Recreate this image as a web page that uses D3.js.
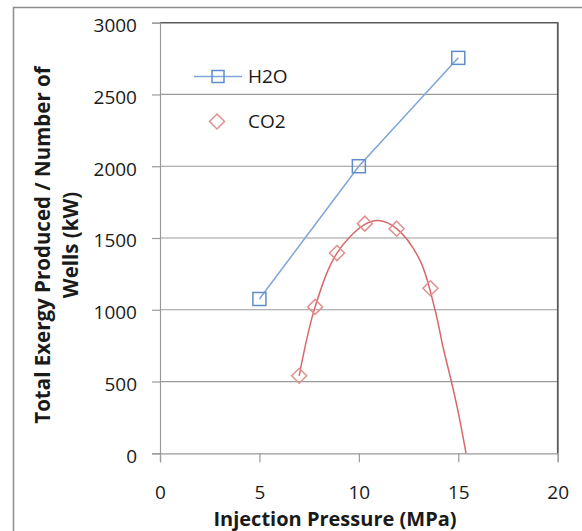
<!DOCTYPE html>
<html>
<head>
<meta charset="utf-8">
<script src="https://cdn.jsdelivr.net/npm/d3@7"></script>
<style>
  html, body { margin: 0; padding: 0; background: #fff; }
  svg { display: block; }
  text { font-family: "Open Sans", "DejaVu Sans", sans-serif; fill: #1a1a1a; }
</style>
</head>
<body>
<svg id="chart" width="582" height="531"></svg>
<script>
// ---- data ----
const xTicks = [0, 5, 10, 15, 20];
const yTicks = [0, 500, 1000, 1500, 2000, 2500, 3000];

const h2oPressure = [5, 10, 15];
const h2oExergy = [1075, 2000, 2755];

const co2Pressure = [7.0, 7.8, 8.9, 10.3, 11.9, 13.6];
const co2Exergy = [540, 1020, 1395, 1600, 1565, 1150];

// trend curve for CO2
const co2TrendPressure = [7.0, 7.8, 8.9, 10.3, 11.0, 11.9, 13.07, 13.83, 14.25, 14.67, 15.0, 15.39];
const co2TrendExergy = [540, 1020, 1395, 1595, 1622, 1565, 1346, 1000, 730, 490, 285, 0];

const seriesNames = ["H2O", "CO2"];
const xTitle = "Injection Pressure (MPa)";
const yTitleLines = ["Total Exergy Produced / Number of", "Wells (kW)"];

// ---- layout ----
const svg = d3.select("#chart");
const plot = { left: 160, right: 557.7, top: 22.7, bottom: 453.3 };

const x = d3.scaleLinear().domain([0, 20]).range([plot.left, plot.right]);
const y = d3.scaleLinear().domain([0, 3000]).range([plot.bottom, plot.top]);

const blueLine = "#7ea6da", blueMark = "#5f8dcb";
const redLine = "#d8686a", redMark = "#e0908f";
const tickFont = "DejaVu Sans";

// outer frame
svg.append("path")
  .attr("d", `M13.5,531 L13.5,7.5 L582,7.5`)
  .attr("fill", "none").attr("stroke", "#8c8c8c").attr("stroke-width", 1.5);

// gridlines
svg.append("g").selectAll("line")
  .data(yTicks.filter(d => d > 0 && d < 3000))
  .join("line")
  .attr("x1", plot.left).attr("x2", plot.right)
  .attr("y1", d => y(d)).attr("y2", d => y(d))
  .attr("stroke", "#9a9a9a").attr("stroke-width", 1.2);

// plot border top + right (dark)
svg.append("path")
  .attr("d", `M${plot.left},${plot.top} L${plot.right},${plot.top} L${plot.right},${plot.bottom}`)
  .attr("fill", "none").attr("stroke", "#5a5a5a").attr("stroke-width", 1.5);

// y axis
const yAxis = d3.axisLeft(y).tickValues(yTicks).tickSize(8).tickPadding(15).tickFormat(d3.format("d"));
const gy = svg.append("g").attr("transform", `translate(${plot.left},0)`).call(yAxis);
gy.select(".domain").attr("stroke", "#9a9a9a").attr("stroke-width", 1.2);
gy.selectAll(".tick line").attr("stroke", "#9a9a9a").attr("stroke-width", 1.2);
gy.selectAll(".tick text").attr("font-size", 19).attr("font-family", tickFont)
  .attr("fill", "#1a1a1a").attr("dy", "0.47em");

// x axis
const xAxis = d3.axisBottom(x).tickValues(xTicks).tickSize(9).tickPadding(10).tickFormat(d3.format("d"));
const gx = svg.append("g").attr("transform", `translate(0,${plot.bottom})`).call(xAxis);
gx.select(".domain").attr("stroke", "#9a9a9a").attr("stroke-width", 1.2);
gx.selectAll(".tick line").attr("stroke", "#9a9a9a").attr("stroke-width", 1.2);
gx.selectAll(".tick text").attr("font-size", 19).attr("font-family", tickFont)
  .attr("fill", "#1a1a1a").attr("y", 45.5).attr("dy", 0);
// right border redrawn over last tick
svg.append("line").attr("x1", plot.right).attr("x2", plot.right).attr("y1", plot.top).attr("y2", plot.bottom)
  .attr("stroke", "#5a5a5a").attr("stroke-width", 1.5);

// axis titles
svg.append("text")
  .attr("x", 335).attr("y", 526)
  .attr("text-anchor", "middle").attr("font-size", 20).attr("font-weight", "bold")
  .text(xTitle);

const yt = svg.append("text")
  .attr("transform", "translate(0,245) rotate(-90)")
  .attr("text-anchor", "middle").attr("font-size", 20.5).attr("font-weight", "bold");
yt.append("tspan").attr("x", 0).attr("y", 49.5).text(yTitleLines[0]);
yt.append("tspan").attr("x", 0).attr("y", 78).text(yTitleLines[1]);

// H2O line + markers
const line = d3.line().x(d => x(d[0])).y(d => y(d[1]));
const h2oData = h2oPressure.map((p, i) => [p, h2oExergy[i]]);
svg.append("path").datum(h2oData).attr("d", line)
  .attr("fill", "none").attr("stroke", blueLine).attr("stroke-width", 1.5);
svg.append("g").selectAll("rect").data(h2oData).join("rect")
  .attr("x", d => x(d[0]) - 6.5).attr("y", d => y(d[1]) - 6.5)
  .attr("width", 13).attr("height", 13)
  .attr("fill", "none").attr("stroke", blueMark).attr("stroke-width", 1.5);

// CO2 trend curve
const trendData = co2TrendPressure.map((p, i) => [p, co2TrendExergy[i]]);
svg.append("path").datum(trendData)
  .attr("d", d3.line().x(d => x(d[0])).y(d => y(d[1])).curve(d3.curveCatmullRom.alpha(0.5)))
  .attr("fill", "none").attr("stroke", redLine).attr("stroke-width", 1.5);

// CO2 markers (diamonds)
const co2Data = co2Pressure.map((p, i) => [p, co2Exergy[i]]);
const diamond = (cx, cy, r) => `M${cx},${cy - r} L${cx + r},${cy} L${cx},${cy + r} L${cx - r},${cy} Z`;
svg.append("g").selectAll("path").data(co2Data).join("path")
  .attr("d", d => diamond(x(d[0]), y(d[1]), 7.5))
  .attr("fill", "none").attr("stroke", redMark).attr("stroke-width", 1.5);

// legend
const lg = svg.append("g");
lg.append("line").attr("x1", 194).attr("x2", 242).attr("y1", 76.5).attr("y2", 76.5)
  .attr("stroke", blueLine).attr("stroke-width", 1.5);
lg.append("rect").attr("x", 212).attr("y", 70.5).attr("width", 12).attr("height", 12)
  .attr("fill", "none").attr("stroke", blueMark).attr("stroke-width", 1.5);
lg.append("text").attr("x", 248).attr("y", 76.5).attr("dy", "0.36em").attr("font-size", 19).text(seriesNames[0]);
lg.append("path").attr("d", diamond(217, 121.5, 7.5))
  .attr("fill", "none").attr("stroke", redMark).attr("stroke-width", 1.5);
lg.append("text").attr("x", 248).attr("y", 121.5).attr("dy", "0.36em").attr("font-size", 19).text(seriesNames[1]);
</script>
</body>
</html>
